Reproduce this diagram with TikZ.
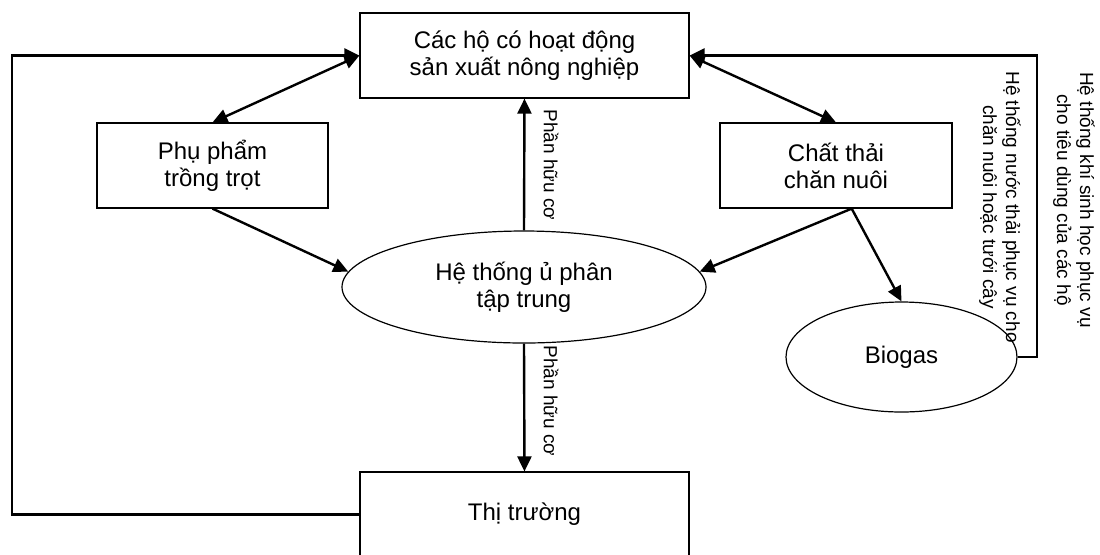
\documentclass[tikz,border=0pt]{standalone}
\usepackage{fontspec}
\setmainfont{Liberation Sans}
\usetikzlibrary{arrows.meta,shapes.geometric}

\begin{document}
\begin{tikzpicture}[x=0.5pt,y=-0.5pt,
  box/.style={draw, line width=0.6pt, minimum width=164.5pt, minimum height=42.5pt, inner sep=0pt, align=center, font=\fontsize{12}{13.5}\selectfont},
  oval/.style={draw, ellipse, line width=0.6pt, inner sep=0pt, align=center, font=\fontsize{12}{13.5}\selectfont},
  link/.style={line width=1.2pt, -{Triangle[length=7.5pt,width=7pt]}},
  both/.style={line width=1.2pt, {Triangle[length=7.5pt,width=7pt]}-{Triangle[length=7.5pt,width=7pt]}},
  lbl/.style={rotate=-90, align=center, inner sep=0pt, font=\fontsize{9.5}{11.5}\selectfont}]
\useasboundingbox (0,0) rectangle (1100,554);
\clip (0,0) rectangle (1100,554);

\node[box] (ho) at (524.5,55.5) {Các hộ có hoạt động\\sản xuất nông nghiệp};
\node[box, minimum width=115.5pt] (phu) at (212.5,165.5) {Phụ phẩm\\trồng trọt};
\node[box, minimum width=116pt] (thai) at (836,165.5) {Chất thải\\chăn nuôi};
\node[oval, minimum width=182pt, minimum height=56pt] (u) at (524,287) {Hệ thống ủ phân\\tập trung};
\node[oval, minimum width=115.5pt, minimum height=55pt] (bio) at (901.5,357) {Biogas};
\node[box] (tt) at (524.5,514.5) {Thị trường};

\coordinate (leftrail) at (12,0);
\coordinate (rightrail) at (1037,0);

\draw[both] (ho.west) -- (phu.north);
\draw[both] (ho.east) -- (thai.north);
\draw[link] (phu.south) -- (u.175);
\draw[link] (thai.-70) -- (u.5);
\draw[link] (thai.-70) -- (bio.north);
\draw[link] (u.north) -- (ho.south);
\draw[link] (u.south) -- (tt.north);
\draw[link] (tt.west) -- (tt.west -| leftrail) -- (ho.west -| leftrail) -- (ho.west);
\draw[link] (bio.east) -- (bio.east -| rightrail) -- (ho.east -| rightrail) -- (ho.east);

\node[lbl] (huuco1) at (551,165) {Phần hữu cơ};
\node[lbl] (huuco2) at (551,401) {Phần hữu cơ};
\node[lbl] (nuocthai) at (1000,207) {Hệ thống nước thải phục vụ cho\\chăn nuôi hoặc tưới cây};
\node[lbl] (khisinh) at (1074,200) {Hệ thống khí sinh học phục vụ\\cho tiêu dùng của các hộ};
\end{tikzpicture}
\end{document}
